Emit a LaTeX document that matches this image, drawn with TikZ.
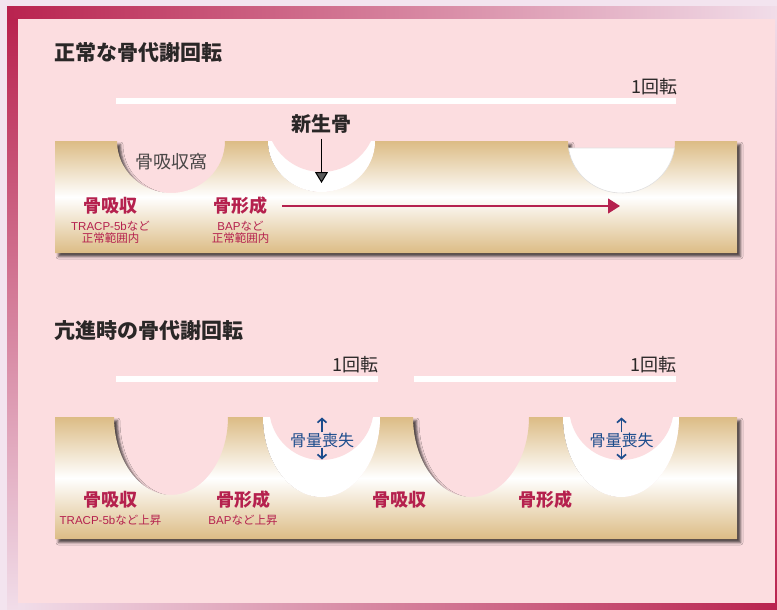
\documentclass[tikz,border=0pt]{standalone}
\usepackage{fontspec}
\setmainfont{Noto Sans CJK JP}
\newfontfamily\latinsans{Liberation Sans}
\usetikzlibrary{shadows.blur,arrows.meta}

\definecolor{pagebg}{HTML}{F3E4EF}
\definecolor{panelpink}{HTML}{FCDDE0}
\definecolor{framedark}{HTML}{B9234F}
\definecolor{framelight}{HTML}{F1DDE9}
\definecolor{bonetan}{HTML}{DCBC85}
\definecolor{ink}{HTML}{2A2727}
\definecolor{accent}{HTML}{B5214E}
\definecolor{lossblue}{HTML}{1C4C8C}

\tikzset{
  heading/.style={anchor=west, inner sep=0pt, text=ink,
    font=\fontsize{21}{25}\selectfont\bfseries},
  cyclelabel/.style={anchor=east, inner sep=0pt, text=ink,
    font=\fontsize{18}{22}\selectfont},
  spanbar/.style={fill=white},
  pitlabel/.style={inner sep=0pt, text=ink!85, font=\fontsize{18}{22}\selectfont},
  newlabel/.style={inner sep=0pt, text=ink, font=\fontsize{20}{24}\selectfont\bfseries},
  phase/.style={inner sep=0pt, text=accent, font=\fontsize{18}{22}\selectfont\bfseries},
  marker/.style={inner sep=0pt, text=accent, font=\fontsize{11.5}{13}\selectfont},
  loss/.style={inner sep=0pt, text=lossblue, font=\fontsize{16}{18}\selectfont},
  lossarrow/.style={draw=lossblue, line width=1.7pt,
    -{Straight Barb[length=4pt,width=9pt]}},
  bone/.style={top color=bonetan, bottom color=bonetan, middle color=white,
    blur shadow={shadow xshift=3.5pt, shadow yshift=-3.5pt,
      shadow blur radius=2.5pt, shadow opacity=70}},
  newbone/.style={fill=white},
  hollow/.style={fill=panelpink},
}

\begin{document}
\begin{tikzpicture}[x=1pt,y=-1pt]
  \useasboundingbox (0,0) rectangle (777,610);

  % page, frame bands and panel
  \fill[pagebg] (0,0) rectangle (777,610);
  \shade[left color=framedark, right color=framelight] (7,7) rectangle (777,19);
  \shade[top color=framedark, bottom color=framelight] (7,19) rectangle (18,610);
  \shade[left color=framelight, right color=framedark] (18,603) rectangle (777,610);
  \shade[top color=framelight, bottom color=framedark] (775,19) rectangle (777,603);
  \fill[panelpink] (18,19) rectangle (775,603);

  % ---------- normal remodelling ----------
  \node[heading] (headA) at (54,52.5) {正常な骨代謝回転};
  \node[cyclelabel] (turnA) at (678,87) {1回転};
  \fill[spanbar] (116,98) rectangle (676,104);

  % bone strip with its three pits
  \shade[bone] (55,141) -- (117,141)
    arc[start angle=180, end angle=0, x radius=54, y radius=52]
    -- (268,141)
    arc[start angle=180, end angle=0, x radius=53.5, y radius=51]
    -- (568,141)
    arc[start angle=180, end angle=0, x radius=53.5, y radius=52]
    -- (737,141) -- (737,253) -- (55,253) -- cycle;

  % pit being refilled with new bone
  \fill[newbone] (268,141)
    arc[start angle=180, end angle=0, x radius=53.5, y radius=51] -- cycle;
  \fill[hollow] (272,141) arc[start angle=154.1, end angle=25.9, radius=55] -- cycle;

  % pit fully refilled
  \fill[newbone, draw=black!12, line width=0.6pt] (568.5,148)
    arc[start angle=172.26, end angle=7.74, x radius=53.5, y radius=52] -- cycle;

  \node[pitlabel] (pitA) at (171.5,162) {骨吸収窩};
  \node[newlabel] (newA) at (321.5,124) {新生骨};
  \coordinate (newtip) at (321.5,183);
  \draw[line width=1pt, -{Triangle[length=11pt,width=13pt]}] (newA.south) ++(0,5) -- (newtip);

  \node[phase] (resA) at (110.5,206) {骨吸収};
  \node[marker] (resAm1) at (110.5,226) {{\latinsans TRACP-5b}など};
  \node[marker] (resAm2) at (110.5,238.5) {正常範囲内};
  \node[phase] (forA) at (240.5,206) {骨形成};
  \node[marker] (forAm1) at (240.5,226) {{\latinsans BAP}など};
  \node[marker] (forAm2) at (240.5,238.5) {正常範囲内};
  \coordinate (flowstart) at (282,206);
  \coordinate (flowend) at (620,206);
  \draw[accent, line width=1.2pt, -{Triangle[length=12pt,width=15pt]}] (flowstart) -- (flowend);

  % ---------- accelerated remodelling ----------
  \node[heading] (headB) at (54,331) {亢進時の骨代謝回転};
  \node[cyclelabel] (turnB1) at (379,365) {1回転};
  \node[cyclelabel] (turnB2) at (677,365) {1回転};
  \fill[spanbar] (116,376) rectangle (378,382);
  \fill[spanbar] (414,376) rectangle (676,382);

  \shade[bone] (55,417) -- (114,417)
    arc[start angle=180, end angle=0, x radius=57, y radius=78]
    -- (263,417)
    arc[start angle=180, end angle=0, x radius=58.5, y radius=80]
    -- (413,417)
    arc[start angle=180, end angle=0, x radius=58, y radius=80]
    -- (563,417)
    arc[start angle=180, end angle=0, x radius=58, y radius=80]
    -- (737,417) -- (737,539) -- (55,539) -- cycle;

  % incompletely refilled pits
  \fill[newbone] (263,417)
    arc[start angle=180, end angle=0, x radius=58.5, y radius=80] -- cycle;
  \fill[hollow] (270,417) arc[start angle=169.8, end angle=10.2, radius=52.3] -- cycle;
  \fill[newbone] (563,417)
    arc[start angle=180, end angle=0, x radius=58, y radius=80] -- cycle;
  \fill[hollow] (570,417) arc[start angle=169.8, end angle=10.2, radius=52.3] -- cycle;

  \node[loss] (lossB1) at (322,440) {骨量喪失};
  \coordinate (lossB1up) at (322,417.5);
  \coordinate (lossB1dn) at (322,459.5);
  \draw[lossarrow] (lossB1.north) -- (lossB1up);
  \draw[lossarrow] (lossB1.south) -- (lossB1dn);

  \node[loss] (lossB2) at (621.5,440) {骨量喪失};
  \coordinate (lossB2up) at (621.5,417.5);
  \coordinate (lossB2dn) at (621.5,459.5);
  \draw[lossarrow] (lossB2.north) -- (lossB2up);
  \draw[lossarrow] (lossB2.south) -- (lossB2dn);

  \node[phase] (resB1) at (110.5,500) {骨吸収};
  \node[marker] (resB1m) at (110.5,520) {{\latinsans TRACP-5b}など上昇};
  \node[phase] (forB1) at (243.5,500) {骨形成};
  \node[marker] (forB1m) at (243,520) {{\latinsans BAP}など上昇};
  \node[phase] (resB2) at (399.5,500) {骨吸収};
  \node[phase] (forB2) at (545,500) {骨形成};
\end{tikzpicture}
\end{document}
